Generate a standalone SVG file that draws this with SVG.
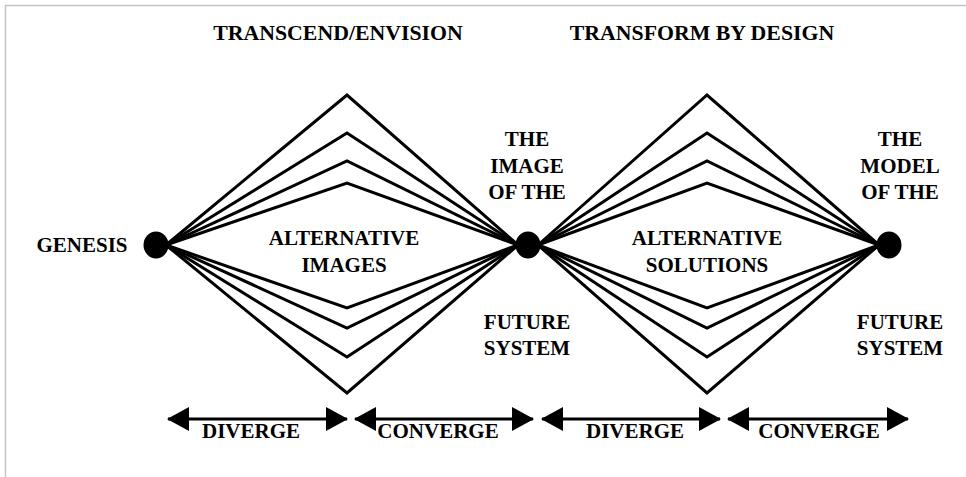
<svg xmlns="http://www.w3.org/2000/svg" width="966" height="477" viewBox="0 0 966 477">
<style>
text{font-family:'Liberation Serif','Times New Roman','DejaVu Serif',serif;font-weight:700;font-size:21px;fill:#000;text-anchor:middle}
.title{font-size:21.8px}
.fan{fill:none;stroke:#000;stroke-width:3;stroke-linejoin:miter}
.arr{stroke:#000;stroke-width:3}
.frame{stroke:#c4c4c4;stroke-width:1.5;fill:none}
</style>
<defs>
<marker id="ah" viewBox="0 0 22 24" refX="21" refY="12" markerUnits="userSpaceOnUse" markerWidth="22" markerHeight="24" orient="auto-start-reverse">
<path d="M0,0 L22,12 L0,24 Z" fill="#000"/>
</marker>
</defs>
<path class="frame" d="M5.5,477 V5.5 H966"/>
<g id="titles">
<text class="title" x="338" y="40">TRANSCEND/ENVISION</text>
<text class="title" x="702" y="40">TRANSFORM BY DESIGN</text>
</g>
<g id="connectors">
<g id="fan1">
<polyline class="fan" points="166,245 347,95 518,245"/>
<polyline class="fan" points="166,245 347,133 518,245"/>
<polyline class="fan" points="166,245 347,161 518,245"/>
<polyline class="fan" points="166,245 347,183 518,245"/>
<polyline class="fan" points="166,245 347,308 518,245"/>
<polyline class="fan" points="166,245 347,328 518,245"/>
<polyline class="fan" points="166,245 347,357 518,245"/>
<polyline class="fan" points="166,245 347,393 518,245"/>
</g>
<g id="fan2">
<polyline class="fan" points="538,245 707,95 879,245"/>
<polyline class="fan" points="538,245 707,133 879,245"/>
<polyline class="fan" points="538,245 707,161 879,245"/>
<polyline class="fan" points="538,245 707,183 879,245"/>
<polyline class="fan" points="538,245 707,308 879,245"/>
<polyline class="fan" points="538,245 707,328 879,245"/>
<polyline class="fan" points="538,245 707,357 879,245"/>
<polyline class="fan" points="538,245 707,393 879,245"/>
</g>
<g id="phase-arrows">
<line class="arr" x1="168" y1="419" x2="347" y2="419" marker-start="url(#ah)" marker-end="url(#ah)"/>
<line class="arr" x1="355" y1="419" x2="533" y2="419" marker-start="url(#ah)" marker-end="url(#ah)"/>
<line class="arr" x1="542" y1="419" x2="720" y2="419" marker-start="url(#ah)" marker-end="url(#ah)"/>
<line class="arr" x1="728" y1="419" x2="908" y2="419" marker-start="url(#ah)" marker-end="url(#ah)"/>
</g>
</g>
<g id="genesis">
<ellipse cx="156" cy="245" rx="12.5" ry="13.5" fill="#000"/>
<text x="82" y="252">GENESIS</text>
</g>
<g id="image-node">
<ellipse cx="528" cy="245" rx="12.5" ry="13.5" fill="#000"/>
<text x="527" y="146">THE</text>
<text x="527" y="173">IMAGE</text>
<text x="527" y="199">OF THE</text>
<text x="527" y="329">FUTURE</text>
<text x="527" y="355">SYSTEM</text>
</g>
<g id="model-node">
<ellipse cx="889" cy="245" rx="12.5" ry="13.5" fill="#000"/>
<text x="900" y="146">THE</text>
<text x="900" y="173">MODEL</text>
<text x="900" y="199">OF THE</text>
<text x="900" y="329">FUTURE</text>
<text x="900" y="355">SYSTEM</text>
</g>
<g id="alt-images">
<text x="344" y="245">ALTERNATIVE</text>
<text x="344" y="272">IMAGES</text>
</g>
<g id="alt-solutions">
<text x="707" y="245">ALTERNATIVE</text>
<text x="707" y="272">SOLUTIONS</text>
</g>
<g id="phase-labels">
<text x="251" y="438">DIVERGE</text>
<text x="438" y="438">CONVERGE</text>
<text x="635" y="438">DIVERGE</text>
<text x="819" y="438">CONVERGE</text>
</g>
</svg>
